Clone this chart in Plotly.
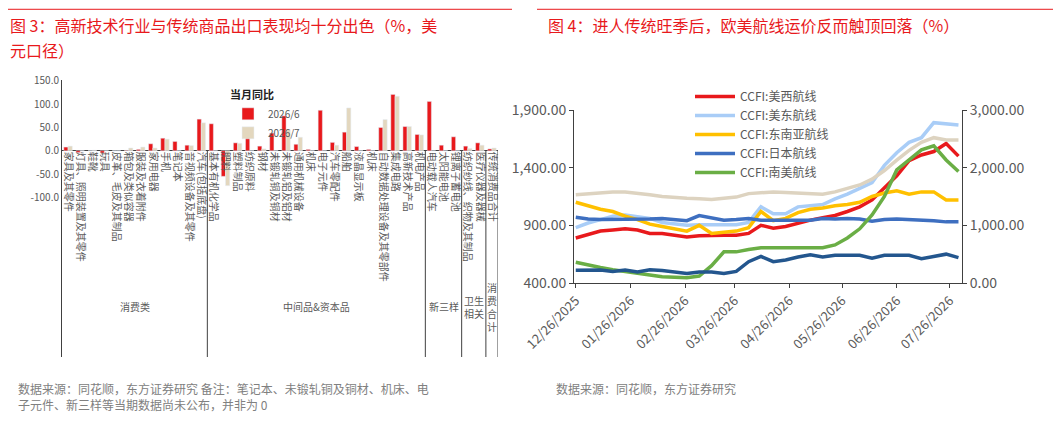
import plotly.graph_objects as go
import pandas as pd

# ---------- Left chart data ----------
categories = ["家具及其零件", "灯具、照明装置及其零件", "鞋靴", "玩具", "皮革、毛皮及其制品", "箱包及类似容器",
              "服装及衣着附件", "家用电器", "手机", "笔记本", "音视频设备及其零件", "汽车(包括底盘)",
              "基本有机化学品", "肥料", "塑料制品", "纺织原料", "钢材", "未锻轧铜及铜材", "未锻轧铝及铝材",
              "通用机械设备", "机床", "电子元件", "汽车零配件", "船舶", "液晶显示板", "机床",
              "自动数据处理设备及其零部件", "集成电路", "高新技术产品", "机电产品",
              "电动载人汽车", "太阳能电池", "锂离子蓄电池", "纺织纱线、织物及其制品", "医疗仪器及器械", "传统消费品合计"]
yoy_jun = [8, -4, 0, -5, 0, 1, 3, 15, 27, 20, 12, 68, 58, -55, 17, 32, 10, 38, 75, 14, 3, 87, 18, 40, 9, 3,
           50, 121, 52, 35, 106, 12, 30, 10, 17, 4]
yoy_jul = [10, 0, 1, 0, 0, 6, 8, 6, 25, 0, 11, 60, 0, -75, 16, 0, 4, 0, 45, 29, 0, 0, 12, 92, 0, 0,
           67, 117, 52, 34, 0, 0, 0, 5, 12, 6]
groups = ["消费类", "中间品&资本品", "新三样", "卫生<br>相关", "消<br>费<br>合<br>计"]
group_sizes = [12, 18, 3, 2, 1]
bar_ticks = [-100, -50, 0, 50, 100, 150]

# ---------- Right chart data ----------
dates = pd.date_range("2025-12-26", periods=32, freq="7D")
us_west = [790, 820, 850, 860, 870, 860, 830, 830, 815, 800, 810, 815, 815, 815, 830, 900, 875, 890, 920, 945,
           965, 985, 1020, 1060, 1120, 1220, 1330, 1460, 1510, 1540, 1610, 1500]
us_east = [880, 920, 950, 980, 990, 975, 960, 925, 910, 900, 905, 905, 910, 905, 925, 1060, 1000, 1000, 1060,
           1070, 1080, 1130, 1170, 1220, 1270, 1420, 1530, 1620, 1660, 1790, 1780, 1770]
se_asia = [1100, 1070, 1040, 1020, 980, 950, 910, 890, 870, 850, 900, 830, 840, 850, 880, 1020, 940, 960, 1010,
           1040, 1050, 1070, 1080, 1100, 1150, 1180, 1200, 1170, 1190, 1190, 1120, 1120]
japan = [970, 955, 950, 950, 955, 950, 955, 960, 950, 940, 985, 965, 945, 950, 960, 945, 945, 940, 940, 945,
         960, 955, 960, 955, 935, 950, 955, 950, 950, 940, 930, 930]
s_america = [580, 555, 535, 515, 500, 480, 465, 455, 450, 445, 460, 550, 670, 670, 690, 705, 705, 705, 710, 705,
             705, 730, 790, 870, 990, 1150, 1380, 1467, 1554, 1590, 1467, 1366]
beige_idx = [1530, 1550, 1570, 1580, 1580, 1560, 1530, 1500, 1480, 1470, 1460, 1450, 1470, 1490, 1550, 1570,
             1580, 1570, 1560, 1540, 1540, 1580, 1640, 1700, 1800, 1950, 2130, 2300, 2440, 2520, 2480, 2480]
navy_idx = [220, 225, 225, 200, 225, 190, 230, 215, 190, 165, 190, 190, 165, 200, 370, 460, 370, 400, 450, 490,
            450, 480, 480, 480, 430, 480, 480, 480, 420, 460, 500, 440]
date_ticks = pd.date_range("2025-12-26", periods=8, freq=pd.DateOffset(months=1))

W, H = 1061, 428
DX, DY = 8, 8  # page offset compensation


def px_x(p):
    return (p - DX) / W


def px_y(p):
    return 1 - (p - DY) / H


FONT = "Noto Sans CJK SC"
gray = "#595959"
n = len(categories)
ymin, ymax = -443, 152
ydom = [px_y(357), px_y(80)]
zero_pos = ydom[0] + (ydom[1] - ydom[0]) * (0 - ymin) / (ymax - ymin)

fig = go.Figure()
x_idx = list(range(1, n + 1))
fig.add_trace(go.Bar(x=x_idx, y=yoy_jun, name="2026/6", marker_color="#E8191C", legend="legend"))
fig.add_trace(go.Bar(x=x_idx, y=yoy_jul, name="2026/7", marker_color="#E3D7BE", legend="legend"))

start = 0.5
for g, s in zip(groups, group_sizes):
    end = start + s
    fig.add_shape(type="line", x0=end, x1=end, y0=0, y1=ymin, xref="x", yref="y",
                  line=dict(color="#404040", width=1))
    fig.add_annotation(x=(start + end) / 2, y=-335, xref="x", yref="y", text=g,
                       showarrow=False, font=dict(size=10, color=gray, family=FONT), yanchor="middle")
    start = end

fig.update_layout(
    xaxis=dict(domain=[px_x(62), px_x(498)], range=[0.5, n + 0.5], tickvals=x_idx, ticktext=categories,
               tickangle=90, tickfont=dict(size=10, color=gray), showgrid=False, zeroline=False,
               showline=False, anchor="free", position=zero_pos, ticks=""),
    yaxis=dict(domain=ydom, range=[ymin, ymax], tickvals=bar_ticks,
               ticktext=[f"{v:.1f}" for v in bar_ticks], showgrid=False, zeroline=True,
               zerolinecolor="#404040", zerolinewidth=1, showline=True, linecolor="#404040",
               tickfont=dict(size=10, color=gray), ticks="", anchor="x"),
    bargap=0.3, bargroupgap=0.0,
)

line_specs = [("CCFI:美西航线", us_west, "#E8191C"), ("CCFI:美东航线", us_east, "#A9CDF7"),
              ("CCFI:东南亚航线", se_asia, "#FFC000"), ("CCFI:日本航线", japan, "#3E6FC0"),
              ("CCFI:南美航线", s_america, "#6AAE45")]
fig.add_trace(go.Scatter(x=dates, y=beige_idx, mode="lines", line=dict(color="#DDD3C0", width=3.5),
                         xaxis="x2", yaxis="y3", showlegend=False))
fig.add_trace(go.Scatter(x=dates, y=navy_idx, mode="lines", line=dict(color="#23568E", width=3.5),
                         xaxis="x2", yaxis="y3", showlegend=False))
for name, vals, col in line_specs:
    fig.add_trace(go.Scatter(x=dates, y=vals, name=name, mode="lines", line=dict(color=col, width=3.5),
                             xaxis="x2", yaxis="y2", legend="legend2"))

axcommon = dict(showgrid=False, showline=True, linecolor="#404040", ticks="outside", ticklen=4,
                tickcolor="#404040", zeroline=False)
fig.update_layout(
    xaxis2=dict(domain=[px_x(574), px_x(962)], anchor="y2",
                range=[dates[0] - pd.Timedelta(days=1), dates[-1] + pd.Timedelta(days=2)],
                tickvals=list(date_ticks), ticktext=[d.strftime("%m/%d/%Y") for d in date_ticks],
                tickangle=-45, tickfont=dict(size=13, color=gray), **axcommon),
    yaxis2=dict(domain=[px_y(283), px_y(110)], anchor="x2", range=[400, 1900], tickvals=[400, 900, 1400, 1900],
                ticktext=["400.00", "900.00", "1,400.00", "1,900.00"], tickfont=dict(size=14, color=gray),
                **axcommon),
    yaxis3=dict(overlaying="y2", side="right", anchor="x2", range=[0, 3000], tickvals=[0, 1000, 2000, 3000],
                ticktext=["0.00", "1,000.00", "2,000.00", "3,000.00"], tickfont=dict(size=14, color=gray),
                **axcommon),
    legend=dict(title=dict(text="<b>当月同比</b>", font=dict(size=11, color="#222")), x=px_x(228), y=px_y(85),
                xanchor="left", yanchor="top", font=dict(size=10, color=gray), bgcolor="rgba(0,0,0,0)",
                itemwidth=30, tracegroupgap=2),
    legend2=dict(x=px_x(690), y=px_y(82), xanchor="left", yanchor="top", font=dict(size=12, color=gray),
                 bgcolor="rgba(0,0,0,0)", tracegroupgap=0, itemwidth=40),
)

fig.add_shape(type="line", xref="paper", yref="paper", x0=0, x1=px_x(512), y0=0.997, y1=0.997,
              line=dict(color="#E8191C", width=1))
fig.add_shape(type="line", xref="paper", yref="paper", x0=px_x(537), x1=1, y0=0.997, y1=0.997,
              line=dict(color="#E8191C", width=1))
title_font = dict(size=16, color="#E8191C", family=FONT)
fig.add_annotation(xref="paper", yref="paper", x=px_x(8), y=px_y(25), xanchor="left", yanchor="middle",
                   text="图 3：高新技术行业与传统商品出口表现均十分出色（%，美", showarrow=False, font=title_font)
fig.add_annotation(xref="paper", yref="paper", x=px_x(8), y=px_y(50), xanchor="left", yanchor="middle",
                   text="元口径）", showarrow=False, font=title_font)
fig.add_annotation(xref="paper", yref="paper", x=px_x(546), y=px_y(25), xanchor="left", yanchor="middle",
                   text="图 4：进人传统旺季后，欧美航线运价反而触顶回落（%）", showarrow=False, font=title_font)
fig.add_annotation(xref="paper", yref="paper", x=px_x(16), y=px_y(378), xanchor="left", yanchor="top", align="left",
                   text="数据来源：同花顺，东方证券研究 备注：笔记本、未锻轧铜及铜材、机床、电<br>子元件、新三样等当期数据尚未公布，并非为 0",
                   showarrow=False, font=dict(size=12, color="#808080", family=FONT))
fig.add_annotation(xref="paper", yref="paper", x=px_x(554), y=px_y(378), xanchor="left", yanchor="top", align="left",
                   text="数据来源：同花顺，东方证券研究", showarrow=False,
                   font=dict(size=12, color="#808080", family=FONT))

fig.update_layout(width=W, height=H, margin=dict(l=0, r=0, t=0, b=0, autoexpand=False),
                  plot_bgcolor="white", paper_bgcolor="white", font=dict(family=FONT), barmode="group")
fig.write_html("out.html")
